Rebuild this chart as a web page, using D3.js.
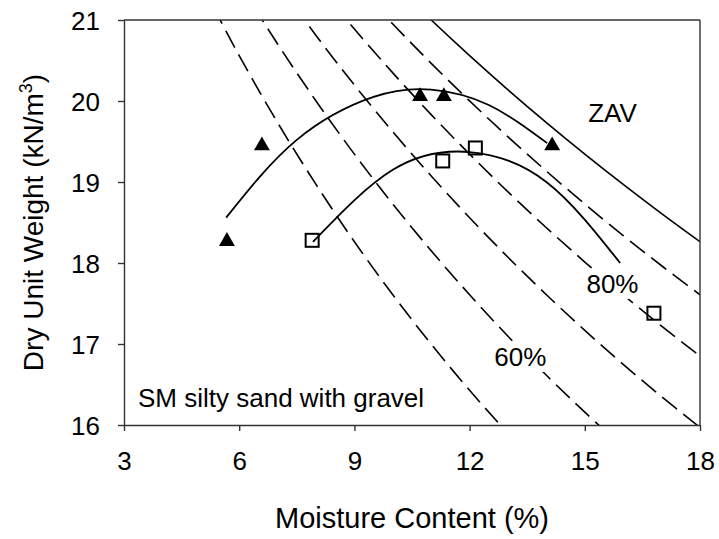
<!DOCTYPE html>
<html>
<head>
<meta charset="utf-8">
<script src="https://cdn.jsdelivr.net/npm/d3@7"></script>
<style>
  body { margin: 0; background: #fff; }
  svg { display: block; font-family: Arial, "Liberation Sans", sans-serif; }
</style>
</head>
<body>
<svg id="chart" width="719" height="539"></svg>
<script>
// axis ticks
var xTicks = [3, 6, 9, 12, 15, 18];
var yTicks = [16, 17, 18, 19, 20, 21];

// test points
var triW = [5.68, 6.59, 10.71, 11.33, 14.15];
var triG = [18.28, 19.46, 20.07, 20.07, 19.46];
var sqW = [7.9, 11.3, 12.15, 16.8];
var sqG = [18.28, 19.26, 19.42, 17.38];

// trend curves
var triFitW = [5.66, 7.5, 9.5, 11.0, 12.5, 14.02];
var triFitG = [18.56, 19.52, 20.05, 20.14, 19.95, 19.48];
var sqFitW = [7.92, 10.0, 12.0, 14.0, 15.92];
var sqFitG = [18.26, 19.15, 19.37, 19.0, 18.0];

// saturation lines (moisture %, dry unit weight)
var satNames = ["50%", "60%", "70%", "80%", "90%", "ZAV"];
var s50W = [5, 6, 7, 8, 9, 10, 11, 12, 13];
var s50G = [21.459, 20.560, 19.733, 18.970, 18.263, 17.608, 16.998, 16.428, 15.896];
var s60W = [6, 7, 8, 9, 10, 11, 12, 13, 14, 15, 16];
var s60G = [21.459, 20.704, 20.001, 19.344, 18.728, 18.151, 17.608, 17.096, 16.614, 16.158, 15.726];
var s70W = [7, 8, 9, 10, 11, 12, 13, 14, 15, 16, 17, 18];
var s70G = [21.459, 20.809, 20.197, 19.620, 19.075, 18.559, 18.071, 17.608, 17.168, 16.749, 16.350, 15.970];
var s80W = [8, 9, 10, 11, 12, 13, 14, 15, 16, 17, 18];
var s80G = [21.459, 20.888, 20.347, 19.832, 19.344, 18.878, 18.435, 18.012, 17.608, 17.221, 16.851];
var s90W = [9, 10, 11, 12, 13, 14, 15, 16, 17, 18];
var s90G = [21.459, 20.950, 20.465, 20.001, 19.558, 19.134, 18.728, 18.339, 17.966, 17.608];
var zavW = [10, 11, 12, 13, 14, 15, 16, 17, 18];
var zavG = [21.459, 21.000, 20.560, 20.138, 19.733, 19.344, 18.970, 18.610, 18.263];

var margin = { top: 20, right: 19, bottom: 114, left: 124 };
var svg = d3.select("#chart");
var width = 719 - margin.left - margin.right;
var height = 539 - margin.top - margin.bottom;

var x = d3.scaleLinear().domain([3, 18]).range([0, width]);
var y = d3.scaleLinear().domain([16, 21]).range([height, 0]);

var g = svg.append("g").attr("transform", "translate(" + margin.left + "," + margin.top + ")");

g.append("clipPath").attr("id", "plot-clip")
  .append("rect").attr("width", width).attr("height", height);

function zip(ws, gs) {
  return ws.map(function(w, i) { return [w, gs[i]]; });
}

var line = d3.line()
  .x(function(d) { return x(d[0]); })
  .y(function(d) { return y(d[1]); })
  .curve(d3.curveMonotoneX);

var smooth = d3.line()
  .x(function(d) { return x(d[0]); })
  .y(function(d) { return y(d[1]); })
  .curve(d3.curveNatural);

var plot = g.append("g").attr("clip-path", "url(#plot-clip)");

var satSeries = [zip(s50W, s50G), zip(s60W, s60G), zip(s70W, s70G),
                 zip(s80W, s80G), zip(s90W, s90G), zip(zavW, zavG)];

plot.selectAll("path.sat")
  .data(satSeries)
  .enter().append("path")
  .attr("class", "sat")
  .attr("d", line)
  .attr("fill", "none")
  .attr("stroke", "#000")
  .attr("stroke-width", 1.6)
  .attr("stroke-dasharray", function(d, i) { return satNames[i] === "ZAV" ? null : "19,8"; });

// trend curves
plot.append("path")
  .attr("d", smooth(zip(triFitW, triFitG)))
  .attr("fill", "none").attr("stroke", "#000").attr("stroke-width", 1.8);
plot.append("path")
  .attr("d", smooth(zip(sqFitW, sqFitG)))
  .attr("fill", "none").attr("stroke", "#000").attr("stroke-width", 1.8);

// labels on curves, with a white patch to break the dashes
function curveLabel(txt, cx, base) {
  var t = g.append("text")
    .attr("x", cx).attr("y", base)
    .attr("text-anchor", "middle")
    .attr("font-size", 26)
    .text(txt);
  return t;
}

var pctLabels = [
  { name: "60%", w: 13.32, g: 16.73 },
  { name: "80%", w: 15.72, g: 17.63 }
];
pctLabels.forEach(function(l) {
  var t = curveLabel(l.name, x(l.w), y(l.g));
  var bb = t.node().getBBox();
  g.insert("rect", "text")
    .attr("x", bb.x - 3).attr("y", bb.y)
    .attr("width", bb.width + 6).attr("height", bb.height)
    .attr("fill", "#fff");
});
curveLabel("ZAV", x(15.72), y(19.74));

g.append("text")
  .attr("x", 14).attr("y", y(16.22))
  .attr("font-size", 26)
  .text("SM silty sand with gravel");

// markers
var tri = d3.symbol().type(d3.symbolTriangle).size(110);
g.selectAll("path.tri")
  .data(zip(triW, triG))
  .enter().append("path")
  .attr("class", "tri")
  .attr("d", tri)
  .attr("transform", function(d) { return "translate(" + x(d[0]) + "," + (y(d[1]) + 1) + ")"; })
  .attr("fill", "#000");

g.selectAll("rect.sq")
  .data(zip(sqW, sqG))
  .enter().append("rect")
  .attr("class", "sq")
  .attr("x", function(d) { return x(d[0]) - 6.5; })
  .attr("y", function(d) { return y(d[1]) - 6.5; })
  .attr("width", 13).attr("height", 13)
  .attr("fill", "none")
  .attr("stroke", "#000")
  .attr("stroke-width", 2);

// axes
var xAxis = g.append("g")
  .attr("transform", "translate(0," + height + ")")
  .call(d3.axisBottom(x).tickValues(xTicks).tickFormat(d3.format("d"))
    .tickSize(6).tickSizeOuter(0).tickPadding(21));
var yAxis = g.append("g")
  .call(d3.axisLeft(y).tickValues(yTicks).tickFormat(d3.format("d"))
    .tickSize(6).tickSizeOuter(0).tickPadding(18));

[xAxis, yAxis].forEach(function(a) {
  a.selectAll("text").attr("font-size", 26).attr("fill", "#000").attr("font-family", null);
  a.selectAll("line").attr("stroke", "#333").attr("stroke-width", 1.4);
  a.select(".domain").attr("stroke", "#333").attr("stroke-width", 1.4);
});
yAxis.selectAll("text").attr("dy", "0.36em");

// top and right frame
g.append("line").attr("x1", 0).attr("x2", width).attr("y1", 0).attr("y2", 0)
  .attr("stroke", "#333").attr("stroke-width", 1.4);
g.append("line").attr("x1", width).attr("x2", width).attr("y1", 0).attr("y2", height)
  .attr("stroke", "#333").attr("stroke-width", 1.4);

// axis titles
svg.append("text")
  .attr("x", margin.left + width / 2).attr("y", 528)
  .attr("text-anchor", "middle")
  .attr("font-size", 29)
  .text("Moisture Content (%)");

var yt = svg.append("text")
  .attr("transform", "translate(43," + (margin.top + height / 2) + ") rotate(-90)")
  .attr("text-anchor", "middle")
  .attr("font-size", 28);
yt.append("tspan").text("Dry Unit Weight (kN/m");
yt.append("tspan").attr("font-size", 18).attr("dy", -11).text("3");
yt.append("tspan").attr("dy", 11).text(")");
</script>
</body>
</html>
